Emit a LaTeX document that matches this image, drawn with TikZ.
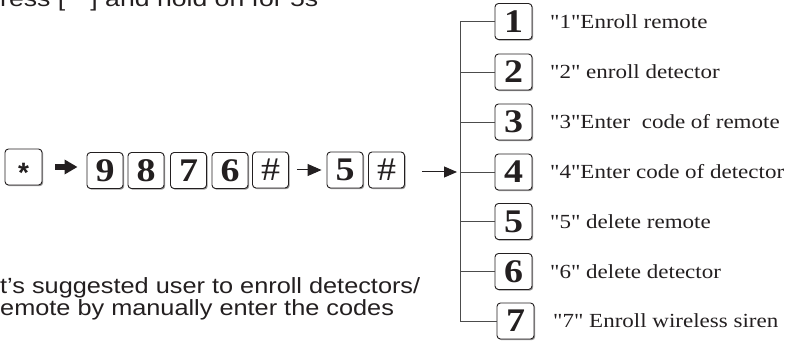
\documentclass[tikz,border=0pt]{standalone}
\usepackage{graphicx}
\usepackage{fontspec}
\setmainfont{Liberation Sans}
\newfontfamily\serifface{Liberation Serif}
\usetikzlibrary{arrows.meta,shadows}
\definecolor{ink}{HTML}{231F20}
\newcommand{\sx}[1]{\scalebox{1.15}[1]{#1}}
\tikzset{
  keybox/.style={draw=ink, line width=0.9pt, rounded corners=3.5pt, fill=white,
    minimum width=36pt, minimum height=36pt, inner sep=0pt, text=ink,
    drop shadow={shadow xshift=1.2pt, shadow yshift=-1.2pt, fill=black!40, opacity=1}},
  digit/.style={keybox, font=\serifface\bfseries\fontsize{33}{33}\selectfont},
  hashkey/.style={keybox, font=\serifface\fontsize{33}{33}\selectfont},
  lbl/.style={anchor=west, font=\serifface\fontsize{20}{24}\selectfont, text=ink, inner sep=0pt},
  note/.style={font=\fontsize{22}{26}\selectfont, text=ink, inner sep=0pt},
  branch/.style={draw=black!70, line width=0.9pt},
}
\begin{document}
\begin{tikzpicture}[x=1pt,y=-1pt]
\useasboundingbox (0,0) rectangle (790,342);
\clip (0,0) rectangle (790,342);
% top (cut) instruction
\node[note, anchor=base west] (top) at (0,6.5) {\scalebox{1.21}[1]{ress [ * ] and hold on for 5s}};
% key sequence
\node[keybox, minimum width=37pt, font=\bfseries\fontsize{28}{28}\selectfont] (star) at (23.5,167) {\raisebox{-16pt}[0pt][0pt]{*}};
\node[digit] (k9) at (105,170.5) {\sx{9}};
\node[digit] (k8) at (146,170.5) {\sx{8}};
\node[digit] (k7) at (188.5,170.5) {\sx{7}};
\node[digit] (k6) at (230,170.5) {\sx{6}};
\node[hashkey] (h1) at (270.5,170) {\sx{\#}};
\node[digit] (k5) at (345,170) {\sx{5}};
\node[hashkey] (h2) at (386.5,170) {\sx{\#}};
\draw[ink, line width=5.5pt, -{Triangle[length=13pt,width=14pt]}, shorten <=13pt, shorten >=9pt]
  (star.east) -- (star.east -| k9.west);
\draw[ink, line width=1pt, -{Triangle[length=14pt,width=12pt]}, shorten <=8pt, shorten >=5pt]
  (h1.east) -- (k5.west);
% tree
\coordinate (vt) at (460,21.5);
\coordinate (vb) at (460,321);
\coordinate (vin) at (460,172);
\draw[ink, line width=1pt, -{Triangle[length=13pt,width=11pt]}, shorten <=17pt, shorten >=3pt]
  (h2.east |- vin) -- (vin);
\draw[branch] (vt) -- (vb);
\node[digit, minimum width=37pt] (b1) at (513.5,21.5) {\sx{1}};
\node[digit, minimum width=37pt] (b2) at (513.5,72) {\sx{2}};
\node[digit, minimum width=37pt] (b3) at (513.5,122) {\sx{3}};
\node[digit, minimum width=37pt] (b4) at (513.5,172) {\sx{4}};
\node[digit, minimum width=37pt] (b5) at (513.5,221.5) {\sx{5}};
\node[digit, minimum width=37pt] (b6) at (513.5,271.5) {\sx{6}};
\node[digit, minimum width=37pt] (b7) at (515.5,321) {\sx{7}};
\foreach \b in {b1,b2,b3,b4,b5,b6,b7} \draw[branch] (\b.west -| vt) -- (\b.west);
\node[lbl] (l1) at (550,21.5) {\sx{"1"Enroll remote}};
\node[lbl] (l2) at (550,72) {\sx{"2" enroll detector}};
\node[lbl] (l3) at (550,122) {\sx{"3"Enter\ \ code of remote}};
\node[lbl] (l4) at (550,172) {\sx{"4"Enter code of detector}};
\node[lbl] (l5) at (550,221.5) {\sx{"5" delete remote}};
\node[lbl] (l6) at (550,271.5) {\sx{"6" delete detector}};
\node[lbl] (l7) at (553,321) {\sx{"7" Enroll wireless siren}};
% note
\node[note, anchor=base west] (n1) at (0,293) {\sx{t's suggested user to enroll detectors/}};
\node[note, anchor=base west] (n2) at (0,315) {\sx{emote by manually enter the codes}};
\end{tikzpicture}
\end{document}
